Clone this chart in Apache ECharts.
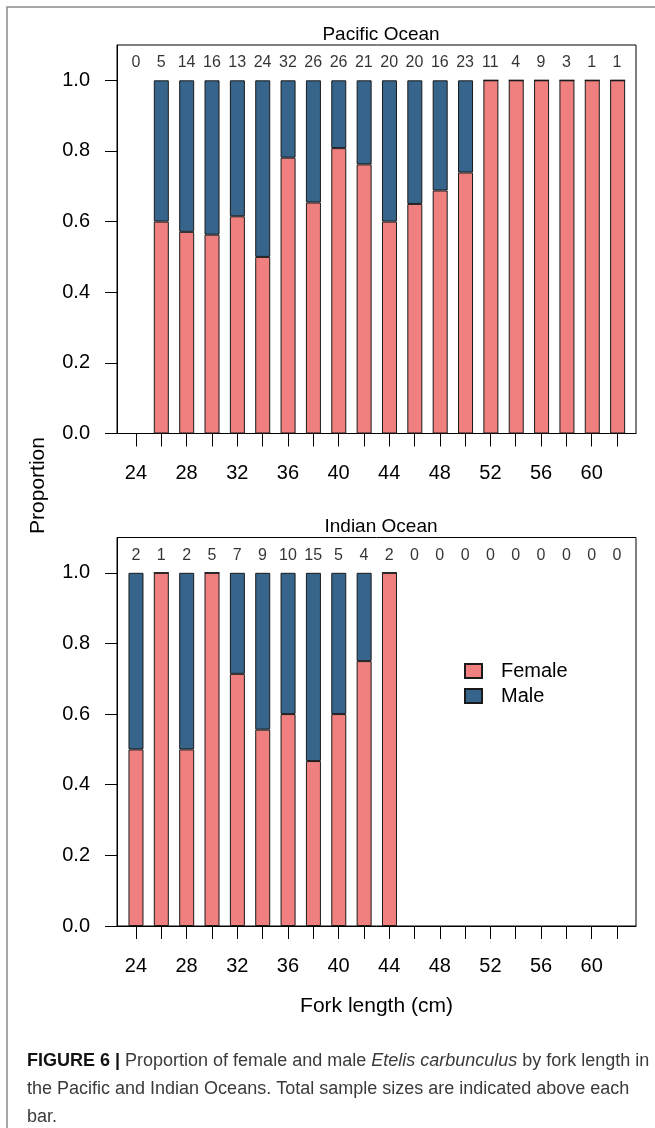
<!DOCTYPE html>
<html>
<head>
<meta charset="utf-8">
<script src="https://cdn.jsdelivr.net/npm/echarts@6/dist/echarts.min.js"></script>
<style>
  html, body { margin: 0; padding: 0; background: #fff; }
  #chart { width: 655px; height: 1128px; }
</style>
</head>
<body>
<div id="chart"></div>
<script>
// fork length classes (cm)
const lengths = [24, 26, 28, 30, 32, 34, 36, 38, 40, 42, 44, 46, 48, 50, 52, 54, 56, 58, 60, 62]

// Pacific Ocean
const pacificFemale = [null, 0.6, 0.571, 0.563, 0.615, 0.5, 0.781, 0.654, 0.808, 0.762, 0.6, 0.65, 0.688, 0.739, 1, 1, 1, 1, 1, 1]
const pacificMale = [null, 0.4, 0.429, 0.437, 0.385, 0.5, 0.219, 0.346, 0.192, 0.238, 0.4, 0.35, 0.312, 0.261, 0, 0, 0, 0, 0, 0]
const pacificN = [0, 5, 14, 16, 13, 24, 32, 26, 26, 21, 20, 20, 16, 23, 11, 4, 9, 3, 1, 1]

// Indian Ocean
const indianFemale = [0.5, 1, 0.5, 1, 0.714, 0.556, 0.6, 0.467, 0.6, 0.75, 1, null, null, null, null, null, null, null, null, null]
const indianMale = [0.5, 0, 0.5, 0, 0.286, 0.444, 0.4, 0.533, 0.4, 0.25, 0, null, null, null, null, null, null, null, null, null]
const indianN = [2, 1, 2, 5, 7, 9, 10, 15, 5, 4, 2, 0, 0, 0, 0, 0, 0, 0, 0, 0]

// axis ticks / labels
const yTicks = [0, 0.2, 0.4, 0.6, 0.8, 1.0]
const xTicks = lengths
const xTickLabels = [24, 28, 32, 36, 40, 44, 48, 52, 56, 60]

const FONT = 'Liberation Sans'
const femaleColor = '#F08080'
const maleColor = '#36648B'
const labelY = 1.05     // height of the sample size labels

// panel placement: frame grid (axes + box) and bar grid (category bands)
const panelTop = [45, 537.5]
const panelH = 388.5

const chart = echarts.init(document.getElementById('chart'))

const frameXAxis = (gridIndex, withName) => ({
  type: 'value',
  gridIndex: gridIndex,
  min: 22.5,
  max: 63.5,
  splitLine: { show: false },
  axisLine: { show: true, lineStyle: { color: '#000', width: 1 } },
  axisTick: { show: true, length: 13, customValues: xTicks, lineStyle: { color: '#000', width: 1 } },
  axisLabel: { customValues: xTickLabels, margin: 30, fontSize: 20, color: '#000', fontFamily: FONT },
  name: withName ? 'Fork length (cm)' : '',
  nameLocation: 'middle',
  nameGap: 70,
  nameTextStyle: { fontSize: 21, color: '#000', fontFamily: FONT },
})

const frameYAxis = (gridIndex) => ({
  type: 'value',
  gridIndex: gridIndex,
  min: 0,
  max: 1.1,
  splitLine: { show: false },
  axisLine: { show: true, lineStyle: { color: '#000', width: 1 } },
  axisTick: { show: true, length: 12, customValues: yTicks, lineStyle: { color: '#000', width: 1 } },
  axisLabel: {
    customValues: yTicks, margin: 27, fontSize: 20, color: '#000', fontFamily: FONT,
    formatter: (v) => v.toFixed(1)
  },
})

const barXAxis = (gridIndex) => ({
  type: 'category',
  gridIndex: gridIndex,
  data: lengths,
  show: false,
})

const barYAxis = (gridIndex) => ({
  type: 'value',
  gridIndex: gridIndex,
  min: 0,
  max: 1.1,
  show: false,
  splitLine: { show: false },
})

const barSeries = (name, values, axisIndex, stack, color) => ({
  name: name,
  type: 'bar',
  xAxisIndex: axisIndex,
  yAxisIndex: axisIndex,
  stack: stack,
  barWidth: 15,
  data: values,
  itemStyle: { color: color, borderColor: '#1a1a1a', borderWidth: 1 },
  silent: true,
})

const countSeries = (counts, axisIndex) => ({
  type: 'scatter',
  xAxisIndex: axisIndex,
  yAxisIndex: axisIndex,
  symbolSize: 0,
  silent: true,
  data: lengths.map((x, i) => [x, labelY, counts[i]]),
  label: {
    show: true, position: 'inside', fontSize: 16, color: '#000', fontFamily: FONT,
    formatter: (p) => String(p.value[2])
  },
})

chart.setOption({
  animation: false,
  backgroundColor: '#fff',
  textStyle: { fontFamily: FONT },
  title: [
    { text: 'Pacific Ocean', left: 376, top: 20, textAlign: 'center',
      textStyle: { fontSize: 19, fontWeight: 'normal', color: '#000', fontFamily: FONT } },
    { text: 'Indian Ocean', left: 376, top: 512, textAlign: 'center',
      textStyle: { fontSize: 19, fontWeight: 'normal', color: '#000', fontFamily: FONT } },
    {
      left: 22, top: 1042,
      text: '{b|FIGURE 6 |} {n|Proportion of female and male }{i|Etelis carbunculus}{n| by fork length in}\n' +
            '{n|the Pacific and Indian Oceans. Total sample sizes are indicated above each}\n' +
            '{n|bar.}',
      textStyle: {
        fontSize: 18, lineHeight: 28, color: '#333', fontWeight: 'normal', fontFamily: FONT,
        rich: {
          b: { fontSize: 18, lineHeight: 28, fontWeight: 'bold', color: '#111', fontFamily: FONT },
          n: { fontSize: 18, lineHeight: 28, color: '#3a3a3a', fontFamily: FONT },
          i: { fontSize: 18, lineHeight: 28, fontStyle: 'italic', color: '#3a3a3a', fontFamily: FONT },
        }
      }
    }
  ],
  legend: {
    data: ['Female', 'Male'],
    orient: 'vertical',
    left: 459, top: 656,
    itemWidth: 17, itemHeight: 14, itemGap: 5,
    icon: 'rect',
    textStyle: { fontSize: 20, color: '#000', fontFamily: FONT, padding: [0, 0, 0, 14] },
  },
  grid: [
    // frames with axes
    { left: 117, right: 19, top: panelTop[0], height: panelH, show: true, borderColor: '#000', borderWidth: 1, backgroundColor: 'transparent' },
    { left: 117, right: 19, top: panelTop[1], height: panelH, show: true, borderColor: '#000', borderWidth: 1, backgroundColor: 'transparent' },
    // bar areas, one band per 2 cm class
    { left: 123.3, right: 24.7, top: panelTop[0], height: panelH },
    { left: 123.3, right: 24.7, top: panelTop[1], height: panelH },
  ],
  xAxis: [frameXAxis(0, false), frameXAxis(1, true), barXAxis(2), barXAxis(3)],
  yAxis: [frameYAxis(0), frameYAxis(1), barYAxis(2), barYAxis(3)],
  series: [
    barSeries('Female', pacificFemale, 2, 'pac', femaleColor),
    barSeries('Male', pacificMale, 2, 'pac', maleColor),
    barSeries('Female', indianFemale, 3, 'ind', femaleColor),
    barSeries('Male', indianMale, 3, 'ind', maleColor),
    countSeries(pacificN, 0),
    countSeries(indianN, 1),
  ],
  graphic: [
    // shared y axis title
    { type: 'text', x: 38, y: 485.5, rotation: Math.PI / 2,
      style: { text: 'Proportion', fontSize: 21, fill: '#000', font: '21px "Liberation Sans"', align: 'center', verticalAlign: 'middle' } },
    // figure frame (left + top edges)
    { type: 'polyline', silent: true,
      shape: { points: [[7, 1128], [7, 7], [655, 7]] },
      style: { stroke: '#8a8a8a', lineWidth: 1.5, fill: null } },
  ],
})
</script>
</body>
</html>
